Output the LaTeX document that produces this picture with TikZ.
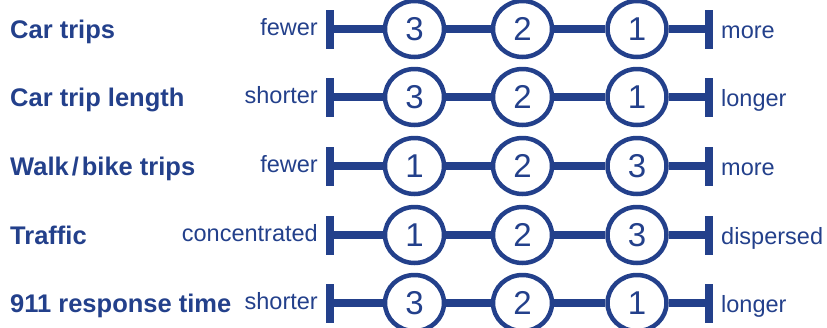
\documentclass[tikz,border=0pt]{standalone}
\usepackage{fontspec}
\setmainfont{Liberation Sans}
\usetikzlibrary{shapes.geometric}
\definecolor{navy}{RGB}{35,64,139}
\begin{document}
\begin{tikzpicture}[x=1pt,y=-1pt,
  num/.style={ellipse, draw=navy, line width=4.5pt, fill=white, minimum width=59pt, minimum height=56pt, inner sep=0pt, text=navy, font=\fontsize{33}{33}\selectfont},
  bar/.style={fill=navy, minimum width=8pt, minimum height=39pt, inner sep=0pt},
  link/.style={draw=navy, line width=7.5pt},
  title/.style={anchor=base west, text=navy, font=\bfseries\fontsize{25.5}{25.5}\selectfont, inner sep=0pt},
  lolabel/.style={anchor=base east, text=navy, font=\fontsize{23.5}{23.5}\selectfont, inner sep=0pt},
  hilabel/.style={anchor=base west, text=navy, font=\fontsize{23.5}{23.5}\selectfont, inner sep=0pt}]
\useasboundingbox (0,0) rectangle (827,327);
\foreach \y/\t/\l/\h/\a/\b/\c [count=\i] in {
  29/Car trips/fewer/more/3/2/1,
  97/Car trip length/shorter/longer/3/2/1,
  166/Walk\kern3pt\slash\kern3pt bike trips/fewer/more/1/2/3,
  235/Traffic/concentrated/dispersed/1/2/3,
  303/911 response time/shorter/longer/3/2/1} {
  \node[bar] (L\i) at (330,\y) {};
  \node[bar] (R\i) at (708.5,\y) {};
  \node[num] (A\i) at (414.5,\y) {\a};
  \node[num] (B\i) at (522.5,\y) {\b};
  \node[num] (C\i) at (637,\y) {\c};
  \draw[link] (L\i.center) -- (A\i);
  \draw[link] (A\i) -- (B\i);
  \draw[link] (B\i) -- (C\i);
  \draw[link] (C\i) -- (R\i.center);
  \node[title] (T\i) at (10,\y+9) {\t};
  \node[lolabel] (P\i) at (318,\y+6) {\l};
  \node[hilabel] (Q\i) at (721,\y+9) {\h};
}
\end{tikzpicture}
\end{document}
